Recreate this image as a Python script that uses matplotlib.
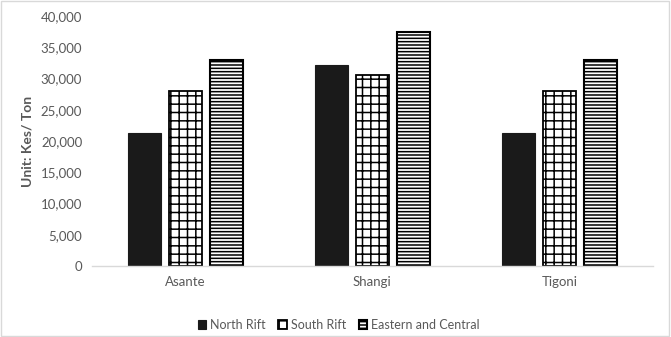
import matplotlib
matplotlib.use("Agg")
import matplotlib.pyplot as plt
import numpy as np

categories = ["Asante", "Shangi", "Tigoni"]
series_names = ["North Rift", "South Rift", "Eastern and Central"]
north_rift = [21300, 32100, 21300]
south_rift = [28000, 30500, 28000]
eastern_central = [33000, 37400, 33000]
yticks = [0, 5000, 10000, 15000, 20000, 25000, 30000, 35000, 40000]

plt.rcParams['font.family'] = ['Lato', 'DejaVu Sans']
plt.rcParams['hatch.linewidth'] = 1.1

fig = plt.figure(figsize=(6.71, 3.37), dpi=100)
fig.patch.set_facecolor('white')
fig.add_artist(plt.Rectangle((0.002, 0.003), 0.995, 0.994, transform=fig.transFigure,
                             fill=False, edgecolor='#d9d9d9', linewidth=1))
ax = fig.add_axes([0.137, 0.211, 0.836, 0.7415])

x = np.arange(len(categories))
w = 0.176
gap = 0.043
offs = [-(w + gap), 0, (w + gap)]
tc = '#595959'

ax.bar(x + offs[0], north_rift, w, color='#1a1a1a', edgecolor='#1a1a1a', linewidth=0.8, label=series_names[0])
ax.bar(x + offs[1], south_rift, w, color='white', edgecolor='black', hatch='++', linewidth=1.3, label=series_names[1])
ax.bar(x + offs[2], eastern_central, w, color='white', edgecolor='black', hatch='-----', linewidth=1.5, label=series_names[2])

ax.set_xlim(-0.5, 2.5)
ax.set_ylim(0, 40000)
ax.set_yticks(yticks)
ax.set_yticklabels([f"{v:,}" for v in yticks], color=tc, fontsize=9.5)
ax.set_xticks(x)
ax.set_xticklabels(categories, color=tc, fontsize=9.5)
ax.tick_params(axis='both', length=0, pad=7)
for s in ['top', 'right', 'left']:
    ax.spines[s].set_visible(False)
ax.spines['bottom'].set_color('#d9d9d9')
ax.spines['bottom'].set_linewidth(1)
ax.set_ylabel("Unit: Kes/ Ton", color=tc, fontsize=10, fontweight='bold', labelpad=5)

leg = ax.legend(loc='center', bbox_to_anchor=(0.44, -0.235), ncol=3, frameon=False,
                fontsize=9, handlelength=0.7, handleheight=0.7, handletextpad=0.3,
                columnspacing=1.0, labelcolor=tc)

fig.savefig("out.png", dpi=100, facecolor='white')
